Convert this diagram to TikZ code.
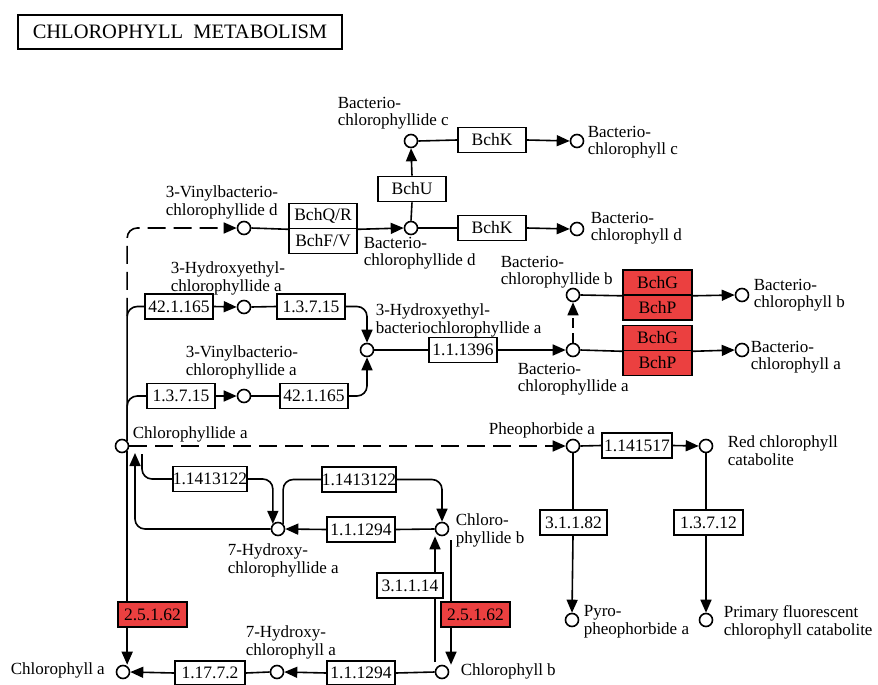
\documentclass[tikz,border=0pt]{standalone}
\usepackage{fontspec}
\setmainfont{Liberation Serif}
\usetikzlibrary{arrows.meta,calc}
\definecolor{kred}{RGB}{235,64,64}
\begin{document}
\begin{tikzpicture}[x=1pt,y=-1pt, line width=1.6pt,
 cpd/.style={circle, draw, fill=white, minimum size=13pt, inner sep=0pt, line width=1.6pt},
 enz/.style={draw, fill=white, minimum width=68pt, minimum height=25pt, inner sep=0pt, line width=1.6pt, font=\fontsize{17.5}{17.5}\selectfont},
 redenz/.style={enz, fill=kred},
 lbl/.style={align=left, inner sep=0pt, anchor=north west, font=\fontsize{17}{17.5}\selectfont},
 arr/.style={-{Triangle[length=13pt,width=11pt]}},
 dsh/.style={dash pattern=on 18pt off 8pt},
 sdsh/.style={dash pattern=on 10pt off 5pt}]
\useasboundingbox (0,0) rectangle (878,685);

% title
\node[draw, line width=2.6pt, minimum width=324pt, minimum height=34pt, inner sep=0pt,
      font=\fontsize{20.5}{20.5}\selectfont] (title) at (180,32) {CHLOROPHYLL\ \ METABOLISM};

% compounds
\node[cpd] (bchlidec) at (411,141) {};
\node[cpd] (bchlc) at (577,141) {};
\node[cpd] (vbchlided) at (244,228) {};
\node[cpd] (bchlided) at (411,228) {};
\node[cpd] (bchld) at (577,229) {};
\node[cpd] (hechlidea) at (244,307) {};
\node[cpd] (hebchlidea) at (367,350) {};
\node[cpd] (vbchlidea) at (244,396) {};
\node[cpd] (bchlideb) at (573,295) {};
\node[cpd] (bchlidea) at (573,350) {};
\node[cpd] (bchlb) at (742,295) {};
\node[cpd] (bchla) at (742,350) {};
\node[cpd] (chlida) at (122,446) {};
\node[cpd] (pheo) at (573,446) {};
\node[cpd] (rcc) at (706,446) {};
\node[cpd] (hchlidea) at (278,529) {};
\node[cpd] (chlideb) at (442,529) {};
\node[cpd] (pyro) at (572,620) {};
\node[cpd] (pfcc) at (706,620) {};
\node[cpd] (chla) at (123,672) {};
\node[cpd] (hchla) at (277,672) {};
\node[cpd] (chlb) at (442,672) {};

% enzymes
\node[enz] (bchk1) at (492,140) {BchK};
\node[enz] (bchu) at (412,189) {BchU};
\node[enz] (bchqr) at (323,216) {BchQ/R};
\node[enz] (bchfv) at (323,241) {BchF/V};
\node[enz] (bchk2) at (492,228) {BchK};
\node[enz] (e42a) at (179,306.5) {42.1.165};
\node[enz] (e137a) at (311,306.5) {1.3.7.15};
\node[enz] (e137b) at (181,396) {1.3.7.15};
\node[enz] (e42b) at (314,396) {42.1.165};
\node[enz] (e11396) at (463,350) {1.1.1396};
\node[redenz, minimum width=69pt] (bchg1) at (657.5,282.5) {BchG};
\node[redenz, minimum width=69pt] (bchp1) at (657.5,307.5) {BchP};
\node[redenz, minimum width=69pt] (bchg2) at (657.5,338) {BchG};
\node[redenz, minimum width=69pt] (bchp2) at (657.5,363) {BchP};
\node[enz, minimum width=70pt] (e1141517) at (637,445.5) {1.141517};
\node[enz, minimum width=70pt] (e1141312a) at (210,479) {1.1413122};
\node[enz] (e1141312b) at (359,479.5) {1.1413122};
\node[enz] (e111294a) at (361,529.5) {1.1.1294};
\node[enz, minimum width=66pt] (e31114) at (410,585.5) {3.1.1.14};
\node[redenz, minimum width=69pt] (red25a) at (152.5,614.5) {2.5.1.62};
\node[redenz, minimum width=69pt] (red25b) at (475.5,614.5) {2.5.1.62};
\node[enz, minimum width=67pt] (e31182) at (573.5,522.5) {3.1.1.82};
\node[enz, minimum width=69pt] (e13712) at (708.5,522.5) {1.3.7.12};
\node[enz, minimum width=70pt, minimum height=24pt] (e11772) at (210,673) {1.17.7.2};
\node[enz, minimum height=24pt] (e111294b) at (361,673) {1.1.1294};

% labels
\node[lbl] (l1) at (337,96) {Bacterio-\\chlorophyllide c};
\node[lbl] (l2) at (587,125) {Bacterio-\\chlorophyll c};
\node[lbl] (l3) at (165,185) {3-Vinylbacterio-\\chlorophyllide d};
\node[lbl] (l4) at (363,236) {Bacterio-\\chlorophyllide d};
\node[lbl] (l5) at (590,211) {Bacterio-\\chlorophyll d};
\node[lbl] (l6) at (170,261) {3-Hydroxyethyl-\\chlorophyllide a};
\node[lbl] (l7) at (185,345) {3-Vinylbacterio-\\chlorophyllide a};
\node[lbl] (l8) at (375,303) {3-Hydroxyethyl-\\bacteriochlorophyllide a};
\node[lbl] (l9) at (500,255) {Bacterio-\\chlorophyllide b};
\node[lbl] (l10) at (517,362) {Bacterio-\\chlorophyllide a};
\node[lbl] (l11) at (753,278) {Bacterio-\\chlorophyll b};
\node[lbl] (l12) at (750,340) {Bacterio-\\chlorophyll a};
\node[lbl] (l13) at (132,426) {Chlorophyllide a};
\node[lbl] (l14) at (488,422) {Pheophorbide a};
\node[lbl] (l15) at (727,435) {Red chlorophyll\\catabolite};
\node[lbl] (l16) at (227,543) {7-Hydroxy-\\chlorophyllide a};
\node[lbl] (l17) at (455,513) {Chloro-\\phyllide b};
\node[lbl] (l18) at (245,625) {7-Hydroxy-\\chlorophyll a};
\node[lbl] (l19) at (10,662) {Chlorophyll a};
\node[lbl] (l20) at (460,663) {Chlorophyll b};
\node[lbl] (l21) at (583,605) {Pyro-\\pheophorbide a};
\node[lbl] (l22) at (723,605) {Primary fluorescent\\chlorophyll catabolite};

% top bacteriochlorophyll c / d
\draw (bchlided.north) -- (bchu.south);
\draw[arr] (bchu.north) -- (bchlidec.south);
\draw (bchlidec.east) -- (bchk1.west);
\draw[arr] (bchk1.east) -- (bchlc.west);
\draw (bchlided.east) -- (bchk2.west);
\draw[arr] (bchk2.east) -- (bchld.west);
\draw (vbchlided.east) -- (bchqr.south west);
\draw[arr] (bchqr.south east) -- (bchlided.west);

% left trunk
\draw[dsh, arr, rounded corners=10pt] ($(chlida.north east)+(0,-125)$) |- (vbchlided.west);
\draw[rounded corners=10pt] (chlida.north east) |- (e42a.west);
\draw[rounded corners=10pt] (chlida.north east) |- (e137b.west);

% hydroxyethyl branches
\draw[arr] (e42a.east) -- (hechlidea.west);
\draw (hechlidea.east) -- (e137a.west);
\draw[arr, rounded corners=10pt] (e137a.east) -| (hebchlidea.north);
\draw[arr] (e137b.east) -- (vbchlidea.west);
\draw (vbchlidea.east) -- (e42b.west);
\draw[arr, rounded corners=10pt] (e42b.east) -| (hebchlidea.south);
\draw (hebchlidea.east) -- (e11396.west);
\draw[arr] (e11396.east) -- (bchlidea.west);
\draw[sdsh, arr] (bchlidea.north) -- (bchlideb.south);
\draw (bchlideb.east) -- (bchg1.south west);
\draw[arr] (bchg1.south east) -- (bchlb.west);
\draw (bchlidea.east) -- (bchg2.south west);
\draw[arr] (bchg2.south east) -- (bchla.west);

% pheophorbide
\draw[dsh, arr] (chlida.east) -- (pheo.west);
\draw (pheo.east) -- (e1141517.west);
\draw[arr] (e1141517.east) -- (rcc.west);
\draw (pheo.south) -- (pheo.south |- e31182.north);
\draw[arr] (pheo.south |- e31182.south) -- (pyro.north);
\draw (rcc.south) -- (rcc.south |- e13712.north);
\draw[arr] (rcc.south |- e13712.south) -- (pfcc.north);

% chlorophyll a/b cycle
\draw[rounded corners=10pt] ($(chlida)+(20,8)$) |- (e1141312a.west);
\draw[arr, rounded corners=10pt] (e1141312a.east) -| (hchlidea.north west);
\draw[rounded corners=10pt] (hchlidea.north east) |- (e1141312b.west);
\draw[arr, rounded corners=10pt] (e1141312b.east) -| (chlideb.north);
\draw (chlideb.west) -- (e111294a.east);
\draw[arr] (e111294a.west) -- (hchlidea.east);
\draw[arr, rounded corners=10pt] (hchlidea.west) -| ($(chlida)+(13,7)$);

\coordinate (cbR) at ($(chlideb)+(9,11)$);
\draw (cbR) -- (cbR |- red25b.north);
\draw[arr] (cbR |- red25b.south) -- (cbR |- chlb.north);
\coordinate (cbL) at ($(chlb)+(-7,-10)$);
\draw (cbL) -- (cbL |- e31114.south);
\draw[arr] (cbL |- e31114.north) -- (cbL |- chlideb.south);

\draw (chlida.south east) -- (chlida.south east |- red25a.north);
\draw[arr] (chlida.south east |- red25a.south) -- (chlida.south east |- chla.north);

\draw (chlb.west) -- (e111294b.east);
\draw[arr] (e111294b.west) -- (hchla.east);
\draw (hchla.west) -- (e11772.east);
\draw[arr] (e11772.west) -- (chla.east);
\end{tikzpicture}
\end{document}
